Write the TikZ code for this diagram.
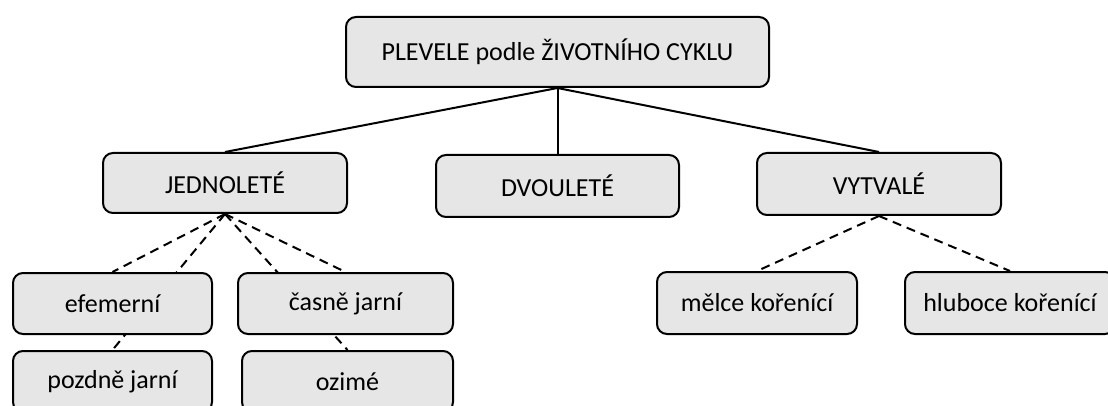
\documentclass[tikz,border=0pt]{standalone}
\usepackage{fontspec}
\setmainfont{Carlito}
\usepackage{xcolor}
\usepackage{tikz}
\usetikzlibrary{backgrounds}

\definecolor{boxgray}{HTML}{E6E6E6}

\begin{document}
\begin{tikzpicture}[
    x=1pt, y=-1pt,
    box/.style={rectangle, rounded corners=10pt, draw, line width=2pt, fill=boxgray,
        minimum height=61pt, align=center, inner sep=0pt,
        font=\fontsize{26}{30}\selectfont, text=black},
    link/.style={line width=2pt},
    dlink/.style={line width=2pt, dash pattern=on 9pt off 6pt}
]
    \useasboundingbox (0,0) rectangle (1108,406);
    \clip (0,0) rectangle (1108,406);

    \node[box, minimum width=423pt, minimum height=70pt] (plevele) at (557.5,52) {PLEVELE podle ŽIVOTNÍHO CYKLU};

    \node[box, minimum width=244pt, minimum height=60pt] (jednolete) at (225,183) {JEDNOLETÉ};
    \node[box, minimum width=243pt, minimum height=62pt] (dvoulete) at (557.5,186) {DVOULETÉ};
    \node[box, minimum width=244pt, minimum height=62pt] (vytvale) at (879,184) {VYTVALÉ};

    \node[box, minimum width=199pt] (efemerni) at (112.5,303.5) {efemerní};
    \node[box, minimum width=215pt] (casne) at (345.5,303.5) {časně jarní};
    \node[box, minimum width=199pt] (pozdne) at (112.5,381.5) {pozdně jarní};
    \node[box, minimum width=211pt] (ozime) at (347.5,381.5) {ozimé};

    \node[box, minimum width=200pt, minimum height=62pt] (melce) at (757,303) {mělce kořenící};
    \node[box, minimum width=210pt, minimum height=62pt] (hluboce) at (1010,303) {hluboce kořenící};

    \begin{scope}[on background layer]
        \draw[link] (plevele.south) -- (jednolete.north);
        \draw[link] (plevele.south) -- (dvoulete.north);
        \draw[link] (plevele.south) -- (vytvale.north);

        \draw[dlink] (jednolete.south) -- (efemerni.north);
        \draw[dlink] (jednolete.south) -- (pozdne.north);
        \draw[dlink] (jednolete.south) -- (casne.north);
        \draw[dlink] (jednolete.south) -- (ozime.north);

        \draw[dlink] (vytvale.south) -- (melce.north);
        \draw[dlink] (vytvale.south) -- (hluboce.north);
    \end{scope}
\end{tikzpicture}
\end{document}
